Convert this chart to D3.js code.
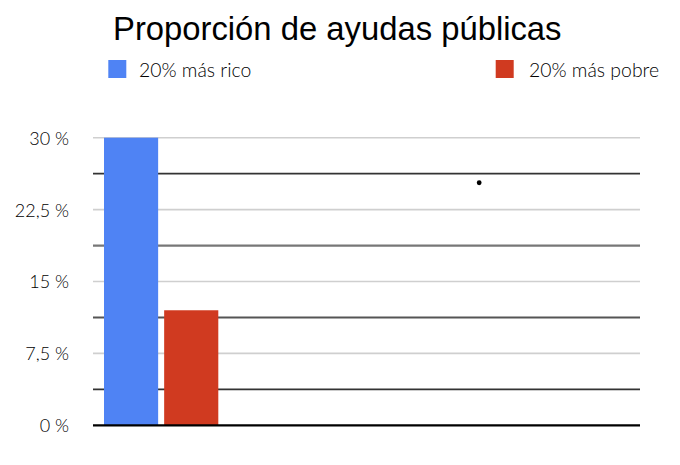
<!DOCTYPE html>
<html>
<head>
<meta charset="utf-8">
<script src="https://cdn.jsdelivr.net/npm/d3@7"></script>
<style>
  html, body { margin: 0; padding: 0; background: #fff; }
  svg { display: block; }
</style>
</head>
<body>
<svg id="chart" width="680" height="465"></svg>
<script>
// ---- data ----
const title = "Proporción de ayudas públicas";
const series = ["20% más rico", "20% más pobre"];
const values = [30, 12];
const colors = ["#4f83f4", "#d03a20"];
const majorTicks = [0, 7.5, 15, 22.5, 30];
const minorTicks = [3.75, 11.25, 18.75, 26.25];
const tickLabels = ["0 %", "7,5 %", "15 %", "22,5 %", "30 %"];
const strayDots = [{ x: 0.706, y: 25.3 }];

// ---- layout ----
const svg = d3.select("#chart");
const plot = { left: 93, right: 640, top: 137.7, bottom: 425.3 };

const y = d3.scaleLinear().domain([0, 30]).range([plot.bottom, plot.top]);
const xBars = d3.scaleBand().domain(series).range([104, 218.3]).paddingInner(0.1).paddingOuter(0);
const xRel = d3.scaleLinear().domain([0, 1]).range([plot.left, plot.right]);

// title
svg.append("text")
  .attr("x", 113).attr("y", 40)
  .attr("font-family", "Liberation Sans, Arial, sans-serif")
  .attr("font-size", 32.8)
  .attr("fill", "#000")
  .text(title);

// legend
const legendPos = [{ sx: 108.3, tx: 139 }, { sx: 495.7, tx: 529 }];
series.forEach((s, i) => {
  svg.append("rect")
    .attr("x", legendPos[i].sx).attr("y", 60)
    .attr("width", 18).attr("height", 18)
    .attr("fill", colors[i]);
  svg.append("text")
    .attr("x", legendPos[i].tx).attr("y", 76.5)
    .attr("font-family", "Lato, sans-serif")
    .attr("font-weight", 300)
    .attr("font-size", 19.4)
    .attr("fill", "#000")
    .text(s);
});

// gridlines
const minorStyle = { 26.25: ["#333", 1.6], 18.75: ["#777", 2.2], 11.25: ["#555", 2], 3.75: ["#333", 1.6] };
svg.append("g").selectAll("line.major")
  .data(majorTicks.filter(d => d !== 0))
  .join("line")
  .attr("x1", plot.left).attr("x2", plot.right)
  .attr("y1", d => y(d)).attr("y2", d => y(d))
  .attr("stroke", "#cfcfcf").attr("stroke-width", 1.6);
svg.append("g").selectAll("line.minor")
  .data(minorTicks)
  .join("line")
  .attr("x1", plot.left).attr("x2", plot.right)
  .attr("y1", d => y(d)).attr("y2", d => y(d))
  .attr("stroke", d => minorStyle[d][0]).attr("stroke-width", d => minorStyle[d][1]);

// bars
svg.append("g").selectAll("rect")
  .data(series)
  .join("rect")
  .attr("x", d => xBars(d))
  .attr("width", xBars.bandwidth())
  .attr("y", (d, i) => y(values[i]))
  .attr("height", (d, i) => y(0) - y(values[i]))
  .attr("fill", (d, i) => colors[i]);

// zero line
svg.append("line")
  .attr("x1", plot.left).attr("x2", plot.right)
  .attr("y1", y(0)).attr("y2", y(0))
  .attr("stroke", "#000").attr("stroke-width", 2.2);

// y axis labels
const yAxis = d3.axisLeft(y)
  .tickValues(majorTicks)
  .tickFormat((d, i) => tickLabels[i])
  .tickSize(0)
  .tickPadding(0);
const gy = svg.append("g").attr("transform", "translate(69,0)").call(yAxis);
gy.select(".domain").remove();
gy.selectAll("text")
  .attr("font-family", "Lato, sans-serif")
  .attr("font-weight", 300)
  .attr("font-size", 18)
  .attr("fill", "#000")
  .attr("dy", "0.36em");

// stray dot
svg.append("g").selectAll("circle")
  .data(strayDots)
  .join("circle")
  .attr("cx", d => xRel(d.x))
  .attr("cy", d => y(d.y))
  .attr("r", 2.4)
  .attr("fill", "#000");
</script>
</body>
</html>
